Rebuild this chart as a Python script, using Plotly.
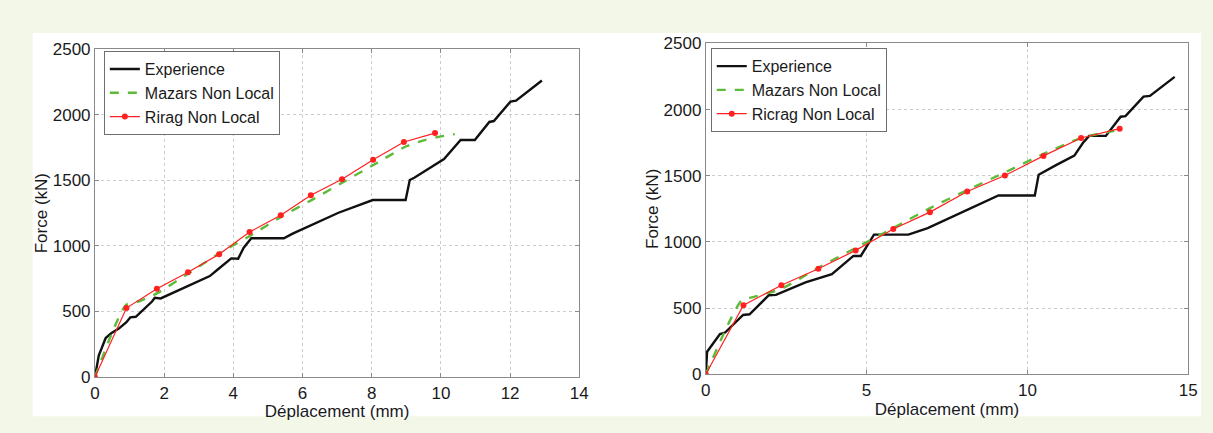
import plotly.graph_objects as go

W, H = 1213, 433

# ---------------- Left chart data ----------------
exp_left_x = [0, 0.11, 0.31, 0.47, 0.69, 0.91, 1.02, 1.18, 1.65, 1.73, 1.90, 3.32, 3.54, 3.94, 4.14, 4.30,
              4.52, 5.46, 5.73, 7.04, 8.03, 8.98, 9.10, 9.23, 10.09, 10.57, 10.98, 11.40, 11.53, 12.01,
              12.17, 12.92]
exp_left_y = [0, 165, 298, 334, 370, 419, 455, 460, 576, 605, 600, 770, 818, 905, 903, 987,
              1058, 1058, 1096, 1253, 1350, 1350, 1503, 1520, 1662, 1807, 1807, 1945, 1952, 2100,
              2107, 2261]

maz_left_x = [0, 0.9, 1.3, 1.8, 2.7, 3.6, 4.5, 5.4, 6.3, 7.2, 8.1, 9.0, 9.5, 10.0, 10.4]
maz_left_y = [0, 551, 580, 640, 790, 945, 1080, 1225, 1355, 1490, 1625, 1760, 1805, 1835, 1852]

rir_left_x = [0, 0.91, 1.79, 2.69, 3.59, 4.47, 5.37, 6.24, 7.14, 8.04, 8.93, 9.83]
rir_left_y = [0, 526, 673, 800, 937, 1106, 1234, 1386, 1508, 1657, 1792, 1860]

# ---------------- Right chart data ----------------
exp_right_x = [0, 0.04, 0.44, 0.60, 1.16, 1.36, 1.96, 2.18, 3.10, 3.92, 4.59, 4.82, 5.23, 6.30, 6.90,
               7.92, 9.10, 10.23, 10.35, 10.89, 11.46, 11.73, 11.92, 12.44, 12.90, 13.05, 13.61,
               13.81, 14.58]
exp_right_y = [0, 170, 303, 315, 448, 453, 597, 600, 694, 756, 894, 894, 1055, 1055, 1105,
               1219, 1351, 1351, 1508, 1580, 1652, 1749, 1801, 1801, 1946, 1951, 2098,
               2103, 2247]

maz_right_x = [0, 1.11, 1.5, 2.35, 3.5, 4.66, 5.83, 6.97, 8.13, 9.3, 10.5, 11.67, 12.7]
maz_right_y = [0, 556, 585, 645, 805, 955, 1105, 1255, 1392, 1525, 1665, 1785, 1840]

ric_right_x = [0, 1.17, 2.35, 3.50, 4.66, 5.83, 6.97, 8.13, 9.30, 10.50, 11.67, 12.87]
ric_right_y = [0, 522, 672, 797, 936, 1097, 1225, 1381, 1502, 1650, 1785, 1856]

x_left_ticks = [0, 2, 4, 6, 8, 10, 12, 14]
x_right_ticks = [0, 5, 10, 15]
y_ticks = [0, 500, 1000, 1500, 2000, 2500]

# ---------------- Styles ----------------
FONT = "Liberation Sans, Arial, sans-serif"
BLACK = "#111111"
GREEN = "#5dbb3a"
RED = "#ff2020"

fig = go.Figure()

def add_set(ex, ey, mx, my, rx, ry, xa, ya, leg, rname):
    fig.add_trace(go.Scatter(x=ex, y=ey, mode="lines", name="Experience",
                             line=dict(color=BLACK, width=2.4), xaxis=xa, yaxis=ya, legend=leg))
    fig.add_trace(go.Scatter(x=mx, y=my, mode="lines", name="Mazars Non Local",
                             line=dict(color=GREEN, width=2.4, dash="dash", shape="spline", smoothing=0.6),
                             xaxis=xa, yaxis=ya, legend=leg))
    fig.add_trace(go.Scatter(x=rx, y=ry, mode="lines+markers", name=rname,
                             line=dict(color=RED, width=1.2), marker=dict(color=RED, size=6),
                             xaxis=xa, yaxis=ya, legend=leg))

add_set(exp_left_x, exp_left_y, maz_left_x, maz_left_y, rir_left_x, rir_left_y,
        "x", "y", "legend", "Rirag Non Local")
add_set(exp_right_x, exp_right_y, maz_right_x, maz_right_y, ric_right_x, ric_right_y,
        "x2", "y2", "legend2", "Ricrag Non Local")

def px_x(p):
    return p / W

def px_y(p):
    return 1 - p / H

axis_common = dict(
    showline=True, linecolor="#8a8a8a", linewidth=1, mirror="ticks",
    ticks="inside", ticklen=4, tickcolor="#8a8a8a",
    showgrid=True, gridcolor="#cccccc", griddash="dot", gridwidth=1,
    zeroline=False, tickfont=dict(family=FONT, size=17, color="#1a1a1a"),
    title_font=dict(family=FONT, size=17, color="#1a1a1a"),
)

legend_common = dict(
    bgcolor="white", bordercolor="#6e6e6e", borderwidth=1,
    font=dict(family=FONT, size=16, color="#1a1a1a"),
    xanchor="left", yanchor="top", itemwidth=30, tracegroupgap=0,
)

fig.update_layout(
    width=W, height=H,
    margin=dict(l=0, r=0, t=0, b=0),
    paper_bgcolor="#f3f7e8",
    plot_bgcolor="white",
    showlegend=True,
    xaxis=dict(domain=[px_x(91), px_x(581)], range=[0, 14], tickvals=x_left_ticks,
               title=dict(text="Déplacement (mm)", standoff=0), anchor="y", **axis_common),
    yaxis=dict(domain=[px_y(385), px_y(42)], range=[0, 2500], tickvals=y_ticks,
               title=dict(text="Force (kN)", standoff=0), anchor="x", **axis_common),
    xaxis2=dict(domain=[px_x(709), px_x(1197)], range=[0, 15], tickvals=x_right_ticks,
                title=dict(text="Déplacement (mm)", standoff=0), anchor="y2", **axis_common),
    yaxis2=dict(domain=[px_y(382), px_y(36)], range=[0, 2500], tickvals=y_ticks,
                title=dict(text="Force (kN)", standoff=0), anchor="x2", **axis_common),
    legend=dict(x=px_x(100), y=px_y(44), **legend_common),
    legend2=dict(x=px_x(714), y=px_y(41), **legend_common),
    shapes=[dict(type="rect", xref="paper", yref="paper",
                 x0=px_x(28), x1=px_x(1210), y0=px_y(426), y1=px_y(25),
                 fillcolor="white", line=dict(width=0), layer="below")],
)

fig.write_html("out.html")
